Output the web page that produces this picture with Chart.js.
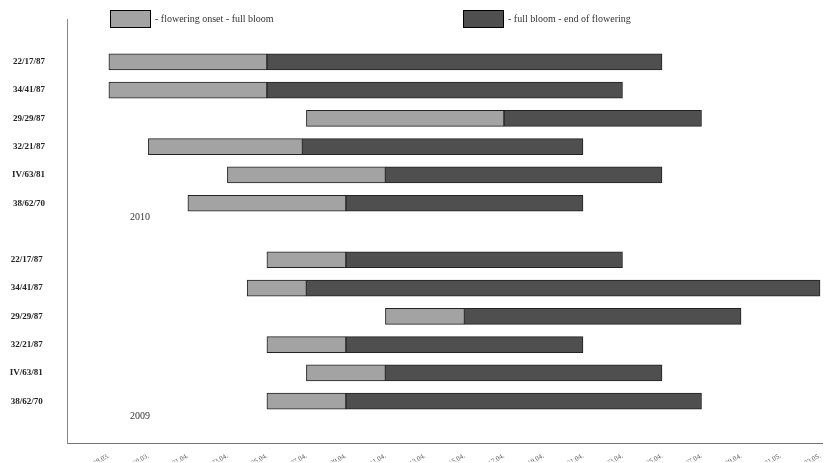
<!DOCTYPE html>
<html>
<head>
<script src="https://cdn.jsdelivr.net/npm/chart.js@4"></script>
<style>body{margin:0;background:#fff}#wrap{width:828px;height:463px}</style>
</head>
<body>
<div id="wrap"><canvas id="c"></canvas></div>
<script>
const categories = ['', '22/17/87', '34/41/87', '29/29/87', '32/21/87', 'IV/63/81', '38/62/70', ' ',
  '22/17/87 ', '34/41/87 ', '29/29/87 ', '32/21/87 ', 'IV/63/81 ', '38/62/70 ', '  '];
// positions on the date axis (tick index)
const onset = [null, 0, 0, 5, 1, 3, 2, null, 4, 3.5, 7, 4, 5, 4, null];
const bloom = [null, 4, 4, 10, 4.9, 7, 6, null, 6, 5, 9, 6, 7, 6, null];
const endFlower = [null, 14, 13, 15, 12, 14, 12, null, 13, 18, 16, 12, 14, 15, null];
const tickLabels = ['28.03.', '30.03.', '01.04.', '03.04.', '05.04.', '07.04.', '09.04.', '11.04.', '13.04.',
  '15.04.', '17.04.', '19.04.', '21.04.', '23.04.', '25.04.', '27.04.', '29.04.', '01.05.', '03.05.'];

const phase1 = onset.map((v, i) => v === null ? null : [v, bloom[i]]);
const phase2 = bloom.map((v, i) => v === null ? null : [v, endFlower[i]]);

const extras = {
  id: 'extras',
  afterDraw(chart) {
    const c = chart.ctx;
    c.save();
    c.lineWidth = 1;
    c.strokeStyle = '#000';
    c.fillStyle = '#a3a3a3';
    c.fillRect(110, 10, 40, 17); c.strokeRect(110.5, 10.5, 40, 17);
    c.fillStyle = '#4f4f4f';
    c.fillRect(463, 10, 40, 17); c.strokeRect(463.5, 10.5, 40, 17);
    c.fillStyle = '#333';
    c.font = '10px "Liberation Serif"';
    c.textBaseline = 'middle';
    c.fillText('- flowering onset - full bloom', 155, 19);
    c.fillText('- full bloom - end of flowering', 508, 19);
    c.fillText('2010', 130, 217);
    c.fillText('2009', 130, 416);
    c.restore();
  }
};

new Chart(document.getElementById('c'), {
  type: 'bar',
  data: {
    labels: categories,
    datasets: [{
      label: '- flowering onset - full bloom',
      data: phase1,
      backgroundColor: '#a3a3a3',
      borderColor: '#222',
      borderWidth: 1,
      borderSkipped: false,
      barThickness: 16
    }, {
      label: '- full bloom - end of flowering',
      data: phase2,
      backgroundColor: '#4f4f4f',
      borderColor: '#222',
      borderWidth: 1,
      borderSkipped: false,
      barThickness: 16
    }]
  },
  options: {
    indexAxis: 'y',
    responsive: true,
    maintainAspectRatio: false,
    animation: false,
    grouped: false,
    layout: { padding: { top: 18, right: 6, left: 0, bottom: 0 } },
    plugins: { legend: { display: false }, tooltip: { enabled: false } },
    scales: {
      x: {
        type: 'linear',
        min: -1.06,
        max: 18.05,
        afterBuildTicks(axis) {
          axis.ticks = tickLabels.map((t, i) => ({ value: i }));
        },
        afterFit(axis) { axis.height = 18; },
        ticks: {
          autoSkip: false,
          maxRotation: 30,
          minRotation: 30,
          color: '#555',
          font: { size: 7, family: 'Liberation Serif' },
          callback: (v) => tickLabels[v]
        },
        grid: { display: false, drawTicks: true, tickLength: 5, tickColor: '#000' },
        border: { color: '#777' }
      },
      y: {
        afterFit(axis) { axis.width = 67; },
        ticks: {
          color: '#222',
          font: { size: 9, weight: 'bold', family: 'Liberation Serif' },
          padding: 14
        },
        grid: { display: false },
        border: { color: '#888' }
      }
    }
  },
  plugins: [extras]
});
</script>
</body>
</html>
